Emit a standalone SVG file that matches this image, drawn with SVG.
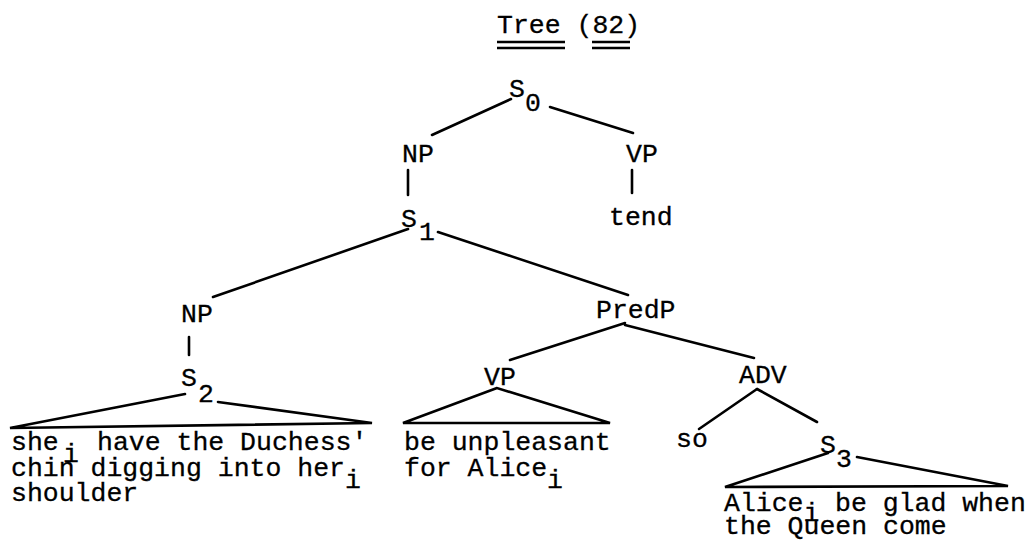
<svg xmlns="http://www.w3.org/2000/svg" width="1028" height="542" viewBox="0 0 1028 542">
<style>
text{font-family:"Liberation Mono","DejaVu Sans Mono",monospace;font-size:26.5px;fill:#000;stroke:#000;stroke-width:0.3px}
.e line,.e path{stroke:#000;stroke-width:2.6;stroke-linecap:round;fill:none}
.u{stroke:#000;stroke-width:2.6}
</style>
<rect width="1028" height="542" fill="#fff"/>
<g id="title">
<text x="497" y="33">Tree (82)</text>
<line class="u" x1="497" y1="42" x2="565" y2="42"/>
<line class="u" x1="497" y1="48" x2="565" y2="48"/>
<line class="u" x1="592" y1="42" x2="630" y2="42"/>
<line class="u" x1="592" y1="48" x2="630" y2="48"/>
</g>
<g id="S0"><text x="509" y="97">S</text><text x="525" y="111">0</text></g>
<g id="NP1"><text x="402" y="162">NP</text></g>
<g id="VP1"><text x="626" y="162">VP</text></g>
<g id="tend"><text x="609" y="225">tend</text></g>
<g id="S1"><text x="401" y="227">S</text><text x="419" y="240">1</text></g>
<g id="NP2"><text x="181" y="322">NP</text></g>
<g id="PredP"><text x="596" y="318">PredP</text></g>
<g id="S2"><text x="181" y="386">S</text><text x="198" y="402">2</text></g>
<g id="VP2"><text x="484" y="385">VP</text></g>
<g id="ADV"><text x="739" y="383">ADV</text></g>
<g id="so"><text x="676" y="447">so</text></g>
<g id="S3"><text x="820" y="453">S</text><text x="836" y="467">3</text></g>
<g id="S2-text">
<text x="11" y="450">she</text><text x="63" y="462">i</text><text x="97" y="450">have the Duchess'</text>
<text x="11" y="476">chin digging into her</text><text x="345" y="488">i</text>
<text x="11" y="501">shoulder</text>
</g>
<g id="VP2-text">
<text x="404" y="450">be unpleasant</text>
<text x="404" y="476">for Alice</text><text x="547" y="488">i</text>
</g>
<g id="S3-text">
<text x="724" y="511">Alice</text><text x="803.5" y="521">i</text><text x="835" y="511">be glad when</text>
<text x="724" y="534">the Queen come</text>
</g>
<g id="connectors" class="e">
<line x1="511" y1="99" x2="432" y2="135"/>
<line x1="550" y1="107" x2="633" y2="133"/>
<line x1="408" y1="170" x2="408" y2="195"/>
<line x1="632" y1="170" x2="632" y2="193"/>
<line x1="408" y1="229" x2="213" y2="297"/>
<line x1="438" y1="232" x2="628" y2="295"/>
<line x1="189" y1="337" x2="189" y2="355"/>
<line x1="625" y1="323" x2="510" y2="360"/>
<line x1="625" y1="325" x2="754" y2="358"/>
<line x1="757" y1="389" x2="699" y2="429"/>
<line x1="757" y1="389" x2="817" y2="422"/>
<path d="M185,394 L10,428 L372,423 L218,402"/>
<path d="M497,388 L403,423 L610,423 Z"/>
<path d="M828,453 L725,487 L1008,486 L857,457"/>
</g>
</svg>
